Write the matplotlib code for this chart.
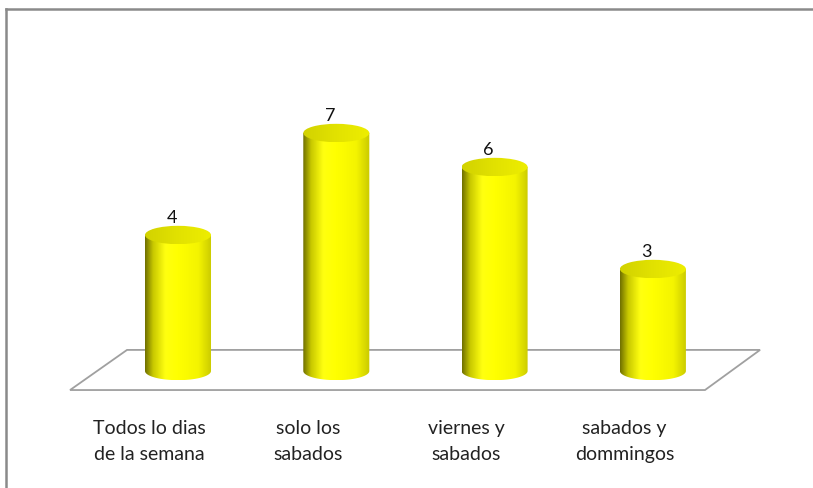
import matplotlib.pyplot as plt
import numpy as np
from matplotlib.patches import Ellipse, Polygon
from matplotlib.path import Path
from matplotlib.lines import Line2D
from matplotlib.colors import LinearSegmentedColormap

categories = ['Todos lo dias\nde la semana', 'solo los\nsabados', 'viernes y\nsabados', 'sabados y\ndommingos']
values = [4, 7, 6, 3]

plt.rcParams['font.family'] = ['Lato', 'DejaVu Sans']

fig = plt.figure(figsize=(8.13, 4.89), dpi=100)
ax = fig.add_axes([0, 0, 1, 1])
ax.set_xlim(-178 / 158.3, 635 / 158.3)
ax.set_ylim(-117 / 34., 372 / 34.)
ax.axis('off')

# outer frame
fig.add_artist(Line2D([6 / 813, 1], [1 - 10 / 489, 1 - 10 / 489], transform=fig.transFigure, color='#8a8a8a', lw=1.8))
fig.add_artist(Line2D([6 / 813, 6 / 813], [0, 1 - 10 / 489], transform=fig.transFigure, color='#8a8a8a', lw=1.8))

# floor
floor = Polygon([(-0.322, 0.62), (3.677, 0.62), (3.329, -0.56), (-0.682, -0.56)], closed=True,
                fc='white', ec='#a0a0a0', lw=1.3, zorder=1)
ax.add_patch(floor)

r = 0.2085      # half width of cylinder (x units)
eh = 0.27       # half height of ellipse (y units)

body_cmap = LinearSegmentedColormap.from_list('body', [
    (0.0, '#6f6f00'), (0.12, '#c8c800'), (0.3, '#ffff10'), (0.5, '#ffff00'),
    (0.8, '#f4f400'), (1.0, '#c9c900')])
top_cmap = LinearSegmentedColormap.from_list('top', [
    (0.0, '#d2d200'), (0.5, '#e2e200'), (1.0, '#eeee00')])
grad = np.linspace(0, 1, 256).reshape(1, -1)

for i, v in enumerate(values):
    x0, x1 = i - r, i + r
    # body: rectangle + lower half ellipse
    t = np.linspace(np.pi, 2 * np.pi, 60)
    pts = [(x0, v)] + [(i + r * np.cos(a), eh * np.sin(a)) for a in t] + [(x1, v), (x0, v)]
    clip = Path(pts)
    im = ax.imshow(grad, cmap=body_cmap, extent=[x0, x1, -eh, v], aspect='auto', zorder=2,
                   interpolation='bilinear')
    im.set_clip_path(clip, transform=ax.transData)
    # top ellipse
    top = Ellipse((i, v), 2 * r, 2 * eh, zorder=3, fc='none', ec='none')
    ax.add_patch(top)
    im2 = ax.imshow(grad, cmap=top_cmap, extent=[x0, x1, v - eh, v + eh], aspect='auto', zorder=3,
                    interpolation='bilinear')
    im2.set_clip_path(top)
    ax.text(i - 0.04, v + 0.52, str(v), ha='center', va='center', fontsize=13, color='#111111', zorder=4)
    ax.text(i - 0.18, -2.05, categories[i], ha='center', va='center', fontsize=14,
            color='#222222', linespacing=1.6)

ax.set_xlim(-178 / 158.3, 635 / 158.3)
ax.set_ylim(-117 / 34., 372 / 34.)

fig.savefig('out.png', dpi=100)
